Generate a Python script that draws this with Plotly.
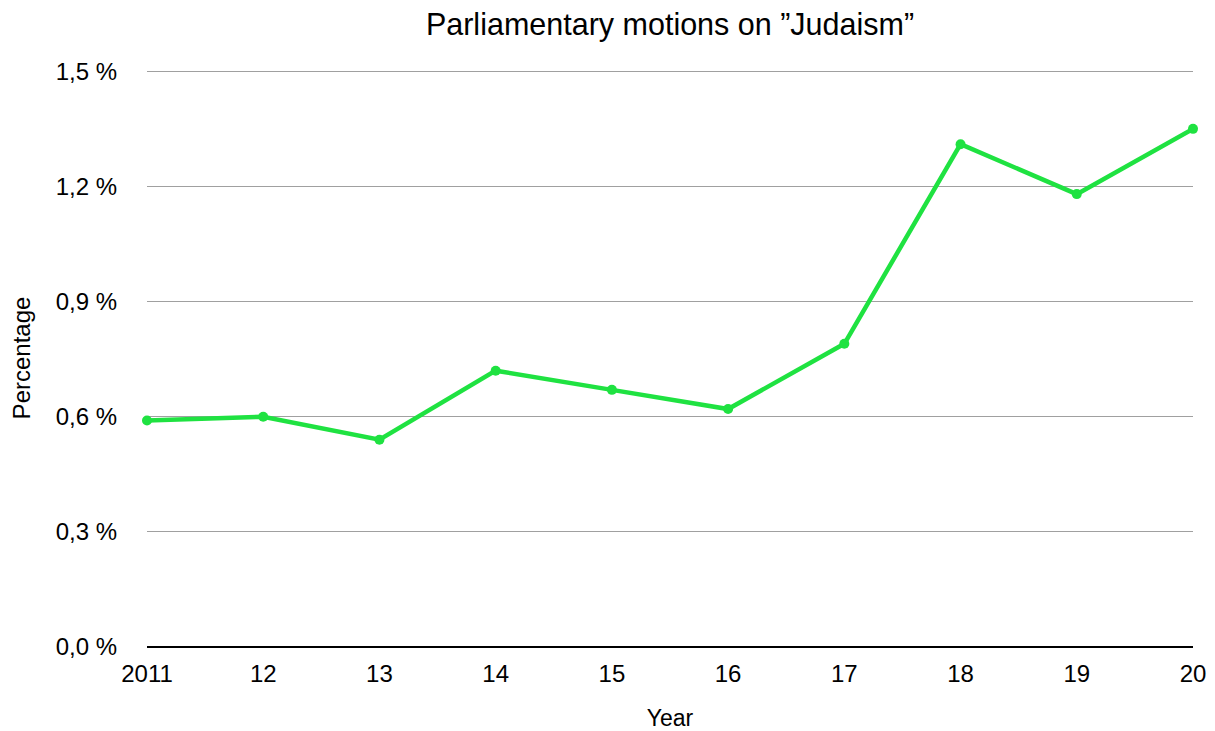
import plotly.graph_objects as go

years = ["2011", "12", "13", "14", "15", "16", "17", "18", "19", "20"]
values = [0.59, 0.60, 0.54, 0.72, 0.67, 0.62, 0.79, 1.31, 1.18, 1.35]
y_tick_vals = [0.0, 0.3, 0.6, 0.9, 1.2, 1.5]
y_tick_text = ["0,0 %", "0,3 %", "0,6 %", "0,9 %", "1,2 %", "1,5 %"]

x_idx = list(range(len(years)))
font_family = "Liberation Sans, Arial, Helvetica, sans-serif"

W, H = 1207, 723

fig = go.Figure()
fig.add_trace(go.Scatter(
    x=x_idx, y=values, mode="lines+markers",
    line=dict(color="#1FE241", width=4.5),
    marker=dict(color="#1FE241", size=10),
    showlegend=False, cliponaxis=False,
))

fig.update_layout(
    width=W, height=H,
    margin=dict(l=139, r=22, t=61, b=84),
    paper_bgcolor="white", plot_bgcolor="white",
    font=dict(family=font_family, color="#000000", size=24),
    title=dict(text="Parliamentary motions on ”Judaism”", x=(670 - 8) / W, xanchor="center",
               xref="container", y=1 - 16 / H, yanchor="middle", yref="container",
               font=dict(size=30.5, color="#000000")),
    xaxis=dict(
        range=[0, 9], tickvals=x_idx, ticktext=years,
        showgrid=False, zeroline=False, showline=False,
        ticks="", ticklabelstandoff=10, automargin=False,
        title=dict(text="Year", font=dict(size=23), standoff=23),
        fixedrange=True,
    ),
    yaxis=dict(
        range=[0, 1.506], tickvals=y_tick_vals, ticktext=y_tick_text,
        showgrid=True, gridcolor="#A0A0A0", gridwidth=1,
        zeroline=True, zerolinecolor="#000000", zerolinewidth=2,
        showline=False, ticks="", ticklabelstandoff=29, automargin=False,
        title=dict(text="Percentage", font=dict(size=24), standoff=19),
        fixedrange=True,
    ),
)

fig.write_html("out.html")
